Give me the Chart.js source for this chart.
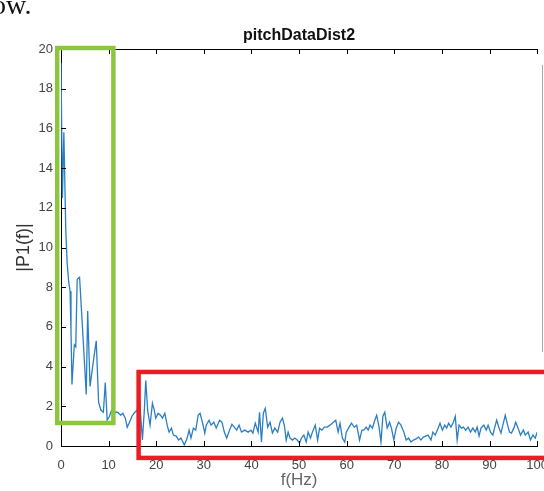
<!DOCTYPE html>
<html>
<head>
<meta charset="utf-8">
<script src="https://cdn.jsdelivr.net/npm/chart.js@4.4.1/dist/chart.umd.min.js"></script>
<style>
  html, body { margin: 0; padding: 0; background: #fff; overflow: hidden; }
  #wrap { position: relative; width: 544px; height: 491px; overflow: hidden; }
  #wrap canvas { position: absolute; left: 0; top: 0; }
  #pageText { position: absolute; left: -8px; top: -9px; font-family: "Liberation Serif", serif; font-size: 28px; line-height: 1; color: #111; }
</style>
</head>
<body>
<div id="wrap">
  <canvas id="fftChart" width="560" height="491"></canvas>
  <div id="pageText">ow.</div>
</div>
<script>
const chartTitle = 'pitchDataDist2';

// single-sided spectrum
const freqHz = [
  0.0, 0.3, 0.6, 1.0, 1.3, 1.6, 1.9, 2.1, 2.3, 2.8, 3.1, 3.4, 3.9, 4.6, 5.3, 5.6, 6.1, 6.7, 7.4, 7.9,
  8.4, 8.9, 9.3, 9.7, 10.2, 10.6, 11.2, 11.9, 12.5, 13.0, 13.5, 13.9, 14.4, 14.9, 15.5, 16.0, 16.5, 17.1, 17.5, 17.8,
  18.2, 18.7, 19.2, 19.6, 19.9, 20.4, 20.9, 21.3, 21.8, 22.3, 22.7, 23.2, 23.6, 24.2, 24.7, 25.2, 25.9, 26.5, 26.9, 27.3,
  27.8, 28.3, 28.8, 29.2, 29.7, 30.2, 30.5, 31.1, 31.5, 32.1, 32.6, 33.3, 33.8, 34.3, 34.8, 35.4, 35.9, 36.4, 36.9, 37.4,
  37.9, 38.6, 39.3, 39.9, 40.3, 40.8, 41.4, 41.7, 42.1, 42.5, 42.9, 43.4, 43.9, 44.4, 44.9, 45.5, 46.0, 46.5, 46.9, 47.3,
  47.7, 48.1, 48.6, 49.1, 49.6, 50.1, 50.5, 51.0, 51.5, 51.9, 52.4, 52.8, 53.4, 53.9, 54.3, 54.8, 55.3, 55.9, 56.5, 57.2,
  57.7, 58.2, 58.6, 59.1, 59.6, 59.9, 60.5, 61.0, 61.6, 62.1, 62.7, 63.2, 63.6, 64.1, 64.5, 64.9, 65.4, 65.9, 66.3, 66.8,
  67.2, 67.6, 68.0, 68.5, 69.0, 69.4, 69.9, 70.4, 70.9, 71.4, 72.0, 72.5, 73.0, 73.5, 74.0, 74.5, 75.1, 75.6, 76.1, 76.6,
  77.1, 77.7, 78.1, 78.6, 79.2, 79.6, 80.1, 80.6, 81.0, 81.4, 81.9, 82.4, 82.8, 83.2, 83.6, 84.1, 84.5, 85.0, 85.5, 86.0,
  86.5, 87.0, 87.4, 87.8, 88.2, 88.8, 89.3, 89.7, 90.2, 90.7, 91.1, 91.5, 92.0, 92.4, 92.9, 93.3, 93.8, 94.2, 94.6, 95.1,
  95.5, 96.0, 96.5, 97.1, 97.5, 98.1, 98.6, 99.1, 99.6, 100.0
];
const amplitude = [
  19.3, 12.5, 15.8, 10.9, 9.2, 8.3, 7.8, 5.8, 3.1, 5.1, 5.0, 8.4, 8.5, 5.6, 2.6, 6.8, 3.0, 4.1, 5.3, 2.2,
  1.8, 1.7, 3.2, 1.3, 1.5, 1.8, 1.7, 1.7, 1.55, 1.65, 1.4, 0.95, 1.2, 1.5, 1.7, 1.8, 2.3, 0.3, 1.8, 3.3,
  1.8, 1.05, 2.15, 1.8, 1.4, 1.65, 1.55, 1.4, 1.65, 1.05, 0.7, 0.9, 0.55, 0.5, 0.3, 0.4, 0.05, 0.4, 0.8, 0.4,
  0.9, 0.8, 1.55, 1.65, 1.2, 0.65, 1.05, 1.3, 1.05, 1.2, 0.9, 1.3, 1.2, 0.7, 0.4, 0.8, 1.1, 0.95, 0.8, 1.05,
  0.7, 0.8, 0.7, 0.8, 0.65, 1.15, 0.7, 1.7, 0.2, 1.65, 1.9, 0.95, 1.2, 0.65, 0.9, 0.7, 1.2, 1.4, 1.05, 0.3,
  0.7, 0.4, 0.3, 0.4, 0.3, 0.15, 0.4, 0.55, 0.2, 0.7, 0.4, 0.7, 1.05, 0.3, 0.9, 0.8, 0.95, 0.95, 1.05, 1.2,
  1.3, 0.7, 1.15, 0.4, 0.2, 0.7, 0.95, 1.15, 0.95, 1.05, 0.3, 0.8, 0.8, 0.95, 0.8, 1.05, 0.9, 1.3, 1.55, 0.95,
  0.2, 1.5, 1.7, 0.9, 1.2, 0.9, 0.3, 0.9, 1.2, 1.05, 0.7, 0.3, 0.4, 0.2, 0.3, 0.35, 0.45, 0.3, 0.45, 0.5,
  0.55, 0.3, 0.7, 0.55, 0.9, 1.15, 0.8, 1.05, 0.9, 1.15, 0.95, 1.2, 1.5, 0.3, 1.05, 0.9, 0.95, 0.8, 0.95, 0.7,
  0.9, 0.7, 0.95, 0.5, 0.9, 1.05, 0.8, 1.05, 0.7, 0.55, 0.95, 1.3, 0.9, 0.65, 1.15, 1.55, 1.05, 0.7, 0.65, 0.9,
  1.2, 0.9, 0.55, 0.8, 0.55, 0.7, 0.3, 0.55, 0.4, 0.7
];

// rectangles drawn over the figure (data units)
const highlightBoxes = [
  { x0: -0.8, x1: 11.0, y0: 1.16, y1: 20.05, color: '#8cc63f' },
  { x0: 16.3, x1: 104, y0: -0.6, y1: 3.73, color: '#ec1c24' }
];

const points = freqHz.map((f, i) => ({ x: f, y: amplitude[i] }));
const FONT = 'Arial, "Liberation Sans", sans-serif';

// matlab-like inner ticks, top box edge, title and the highlight boxes
const matlabAxes = {
  id: 'matlabAxes',
  afterDraw(chart) {
    const { ctx, chartArea: a, scales: { x, y } } = chart;
    ctx.save();

    ctx.fillStyle = '#111';
    ctx.font = 'bold 16px ' + FONT;
    ctx.textAlign = 'center';
    ctx.textBaseline = 'middle';
    ctx.fillText(chartTitle, (a.left + a.right) / 2, 36);

    ctx.strokeStyle = '#000';
    ctx.lineWidth = 1;
    ctx.beginPath();
    ctx.moveTo(a.left, a.top + 0.5);
    ctx.lineTo(a.right, a.top + 0.5);
    x.ticks.forEach(t => {
      const px = Math.round(x.getPixelForValue(t.value)) + 0.5;
      ctx.moveTo(px, a.bottom); ctx.lineTo(px, a.bottom - 5);
      ctx.moveTo(px, a.top); ctx.lineTo(px, a.top + 5);
    });
    y.ticks.forEach(t => {
      const py = Math.round(y.getPixelForValue(t.value)) + 0.5;
      ctx.moveTo(a.left, py); ctx.lineTo(a.left + 5, py);
    });
    ctx.stroke();

    // faint leftover edge seen at the right of the picture
    ctx.strokeStyle = '#aaa';
    ctx.beginPath();
    ctx.moveTo(542.5, 65); ctx.lineTo(542.5, 352);
    ctx.stroke();

    ctx.lineWidth = 4.5;
    highlightBoxes.forEach(b => {
      const l = x.getPixelForValue(b.x0), r = x.getPixelForValue(b.x1);
      const t = y.getPixelForValue(b.y1), btm = y.getPixelForValue(b.y0);
      ctx.strokeStyle = b.color;
      ctx.strokeRect(l, t, r - l, btm - t);
    });
    ctx.restore();
  }
};

new Chart(document.getElementById('fftChart'), {
  type: 'line',
  data: {
    datasets: [{
      data: points,
      borderColor: '#2a7ec3',
      borderWidth: 1.3,
      pointRadius: 0,
      tension: 0,
      fill: false
    }]
  },
  options: {
    responsive: false,
    animation: false,
    events: [],
    layout: { padding: { left: 0, right: 13, top: 49, bottom: 0 }, autoPadding: false },
    plugins: {
      legend: { display: false },
      tooltip: { enabled: false },
      title: { display: false }
    },
    scales: {
      x: {
        type: 'linear',
        min: 0,
        max: 100,
        ticks: { stepSize: 10, color: '#444', padding: 12, maxRotation: 0, font: { family: FONT, size: 13 } },
        grid: { drawOnChartArea: false, drawTicks: false },
        border: { display: true, color: '#000', width: 1 },
        title: { display: true, text: 'f(Hz)', color: '#666', padding: { top: 0, bottom: 0 },
          font: { family: FONT, size: 17 } },
        afterFit(scale) { scale.height = 45; }
      },
      y: {
        min: 0,
        max: 20,
        ticks: { stepSize: 2, color: '#444', padding: 8, font: { family: FONT, size: 13 } },
        grid: { drawOnChartArea: false, drawTicks: false },
        border: { display: true, color: '#000', width: 1 },
        title: { display: true, text: '|P1(f)|', color: '#333', padding: { top: 13, bottom: 0 },
          font: { family: FONT, size: 18 } },
        afterFit(scale) { scale.width = 61; }
      }
    }
  },
  plugins: [matlabAxes]
});
</script>
</body>
</html>
